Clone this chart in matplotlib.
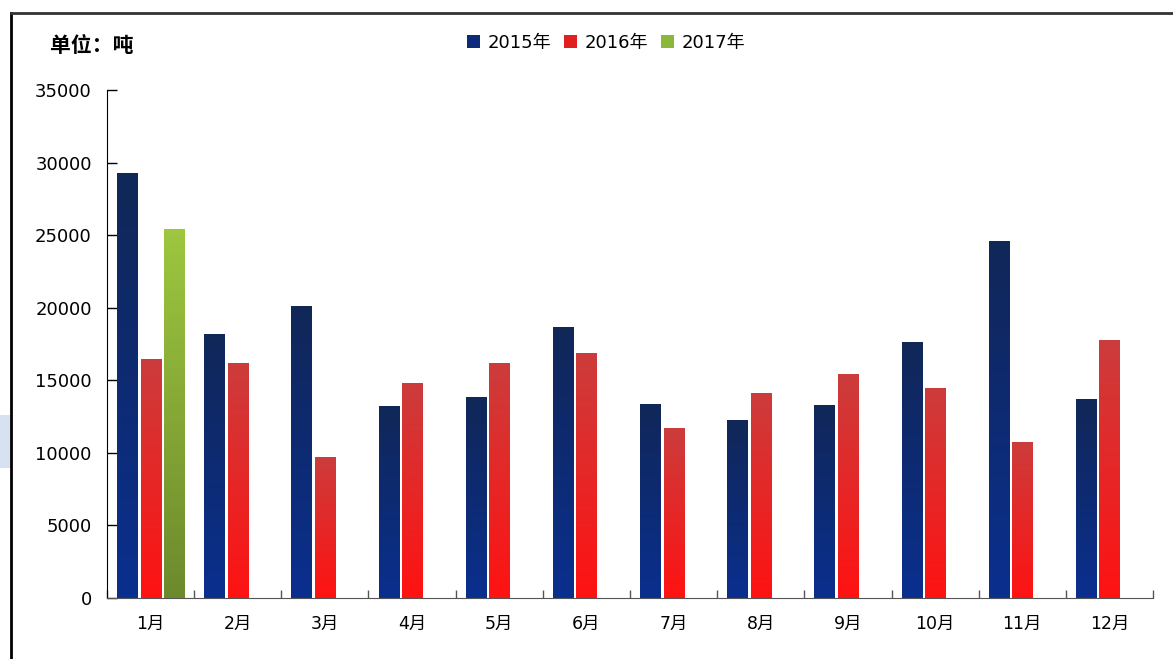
import numpy as np
import matplotlib.pyplot as plt
from matplotlib.colors import LinearSegmentedColormap
from matplotlib.patches import Patch, Rectangle
from matplotlib.lines import Line2D

plt.rcParams['font.family'] = ['DejaVu Sans', 'Noto Sans CJK SC']

months = ['1月', '2月', '3月', '4月', '5月', '6月', '7月', '8月', '9月', '10月', '11月', '12月']
v2015 = [29250, 18200, 20100, 13200, 13830, 18700, 13400, 12250, 13300, 17650, 24570, 13730]
v2016 = [16500, 16200, 9700, 14800, 16200, 16900, 11700, 14150, 15400, 14500, 10750, 17770]
v2017 = [25400]
years = ['2015年', '2016年', '2017年']

# gradient colours (bottom, top) per series
grads = [('#0a2f8e', '#112758'), ('#ff1212', '#cc3c3c'), ('#6c8a2c', '#9ec63f')]
legend_colors = ['#0d2a7a', '#e02020', '#8bb83a']

fig = plt.figure(figsize=(11.73, 6.59), dpi=100)
ax = fig.add_axes([107/1173, 1 - 598/659, (1153-107)/1173, (598-90)/659])

x = np.arange(len(months))
offsets = [-0.27, 0.0, 0.27]
width = 0.23

for vals, off, (c0, c1) in zip([v2015, v2016, v2017], offsets, grads):
    xs = x[:len(vals)] + off
    bars = ax.bar(xs, vals, width, facecolor='none', edgecolor='none')
    cmap = LinearSegmentedColormap.from_list('g', [c0, c1])
    g = np.linspace(0, 1, 100).reshape(-1, 1)
    for b in bars:
        bx, bw, bh = b.get_x(), b.get_width(), b.get_height()
        im = ax.imshow(g, cmap=cmap, extent=(bx, bx + bw, 0, bh), origin='lower',
                       aspect='auto', zorder=2)
        im.set_clip_path(b)

ax.set_xlim(-0.5, len(months) - 0.5)
ax.set_ylim(0, 35000)
ax.set_yticks(np.arange(0, 35001, 5000))
ax.tick_params(axis='y', direction='in', length=7, width=1, pad=11, labelsize=13,
               colors='black')

ax.set_xticks(np.arange(-0.5, len(months), 1))
ax.set_xticklabels([])
ax.tick_params(axis='x', which='major', direction='in', length=6, width=1, color='#555555')
ax.set_xticks(x, minor=True)
ax.set_xticklabels(months, minor=True, fontsize=12.5)
ax.tick_params(axis='x', which='minor', length=0, pad=12)

ax.spines['top'].set_visible(False)
ax.spines['right'].set_visible(False)
ax.spines['left'].set_color('black')
ax.spines['bottom'].set_color('#555555')

handles = [Patch(facecolor=c, edgecolor='none') for c in legend_colors]
fig.legend(handles, years, loc='center', bbox_to_anchor=(606/1173, 1 - 43/659), ncol=3,
           frameon=False, fontsize=13, handlelength=0.75, handleheight=0.75,
           handletextpad=0.4, columnspacing=0.7)

fig.text(50/1173, 1 - 46/659, '单位：吨', fontsize=15, fontweight='bold',
         va='center', ha='left', family=['Noto Sans CJK SC', 'DejaVu Sans'])

# outer frame and side marker
fig.add_artist(Line2D([11/1173, 11/1173], [0, 1 - 13/659], transform=fig.transFigure,
                      color='black', lw=2))
fig.add_artist(Line2D([11/1173, 1], [1 - 13/659, 1 - 13/659], transform=fig.transFigure,
                      color='#333333', lw=2))
fig.add_artist(Rectangle((0, 1 - 468/659), 10/1173, 53/659, transform=fig.transFigure,
                         facecolor='#d6e1f1', edgecolor='none'))

fig.savefig('out.png', dpi=100)
